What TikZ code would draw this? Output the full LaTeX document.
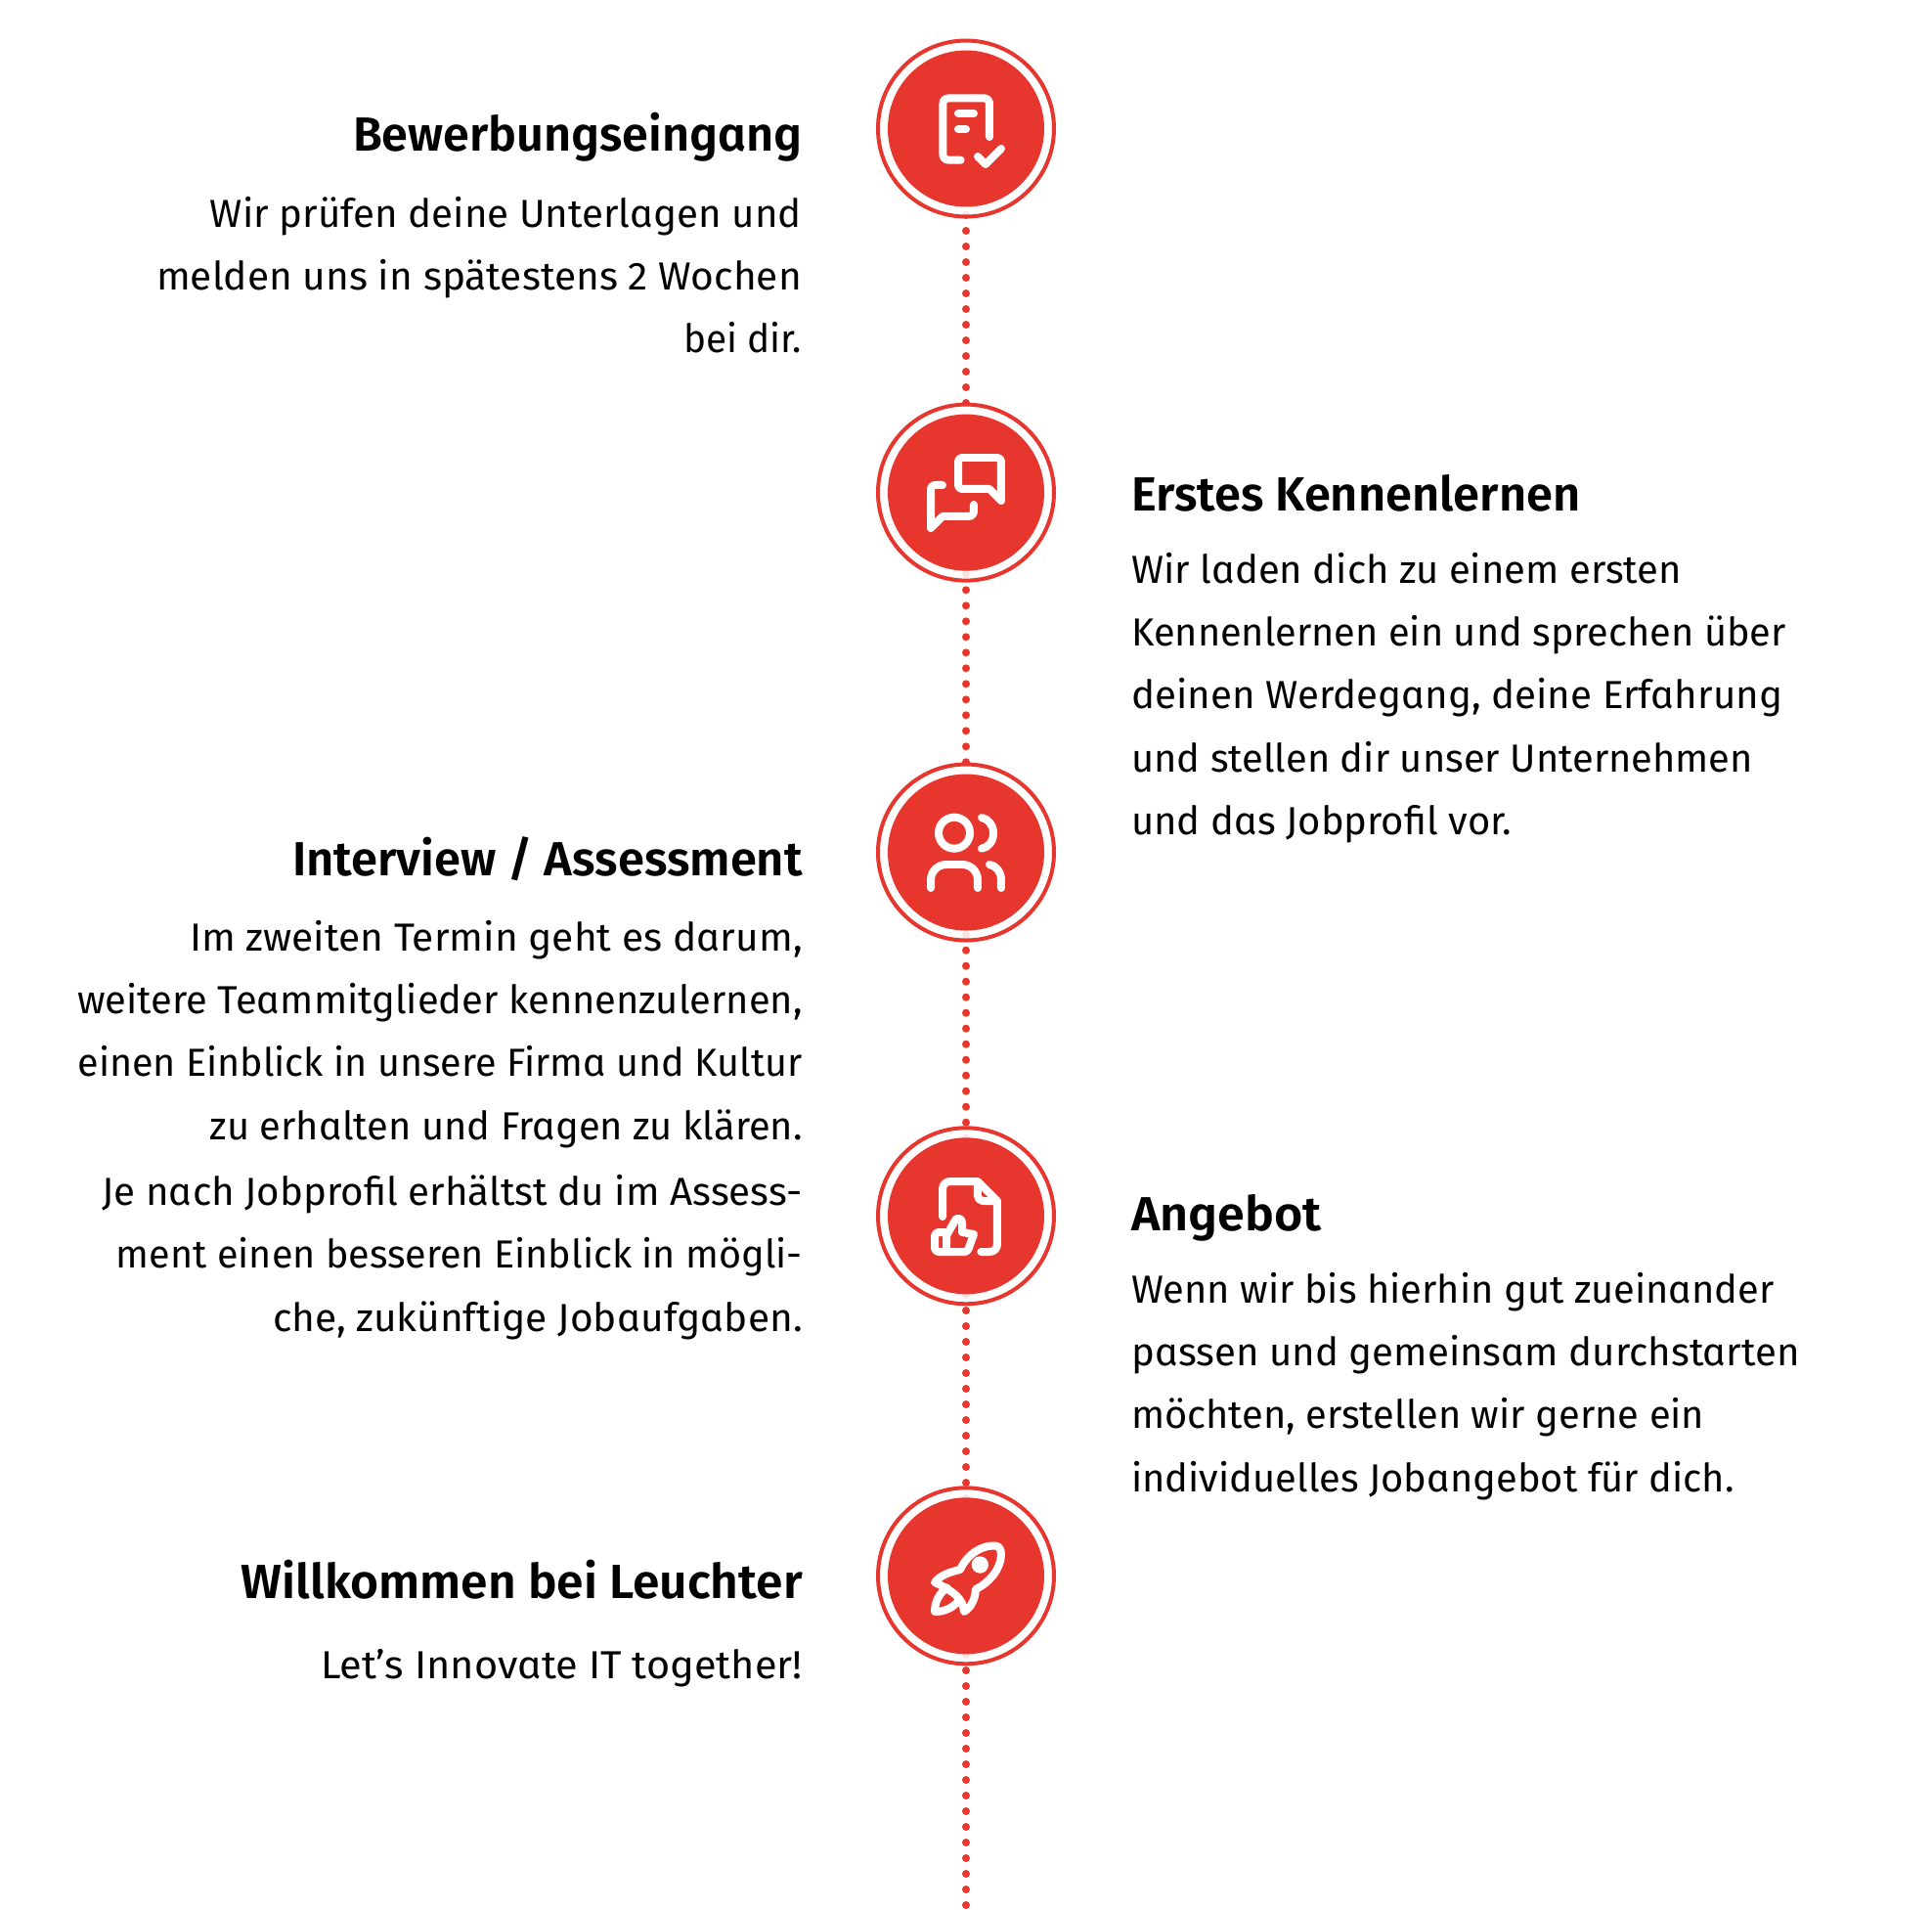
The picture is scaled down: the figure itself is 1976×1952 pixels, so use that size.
\documentclass[tikz,border=0pt]{standalone}
\usepackage{fontspec}
\usetikzlibrary{backgrounds}
\setmainfont{Fira Sans}[RawFeature={+salt}]
\newfontfamily\hdf{Fira Sans SemiBold}[RawFeature={+salt}]
\definecolor{lred}{HTML}{E7362D}
\tikzset{
  ring/.style={circle,draw=lred,line width=4pt,fill=white,fill opacity=.85,minimum size=180pt,inner sep=0pt,outer sep=0pt},
  core/.style={circle,fill=lred,minimum size=160pt,inner sep=0pt,outer sep=0pt},
  dots/.style={draw=lred,line width=8pt,line cap=round,dash pattern=on 0pt off 16pt},
  ico/.style={draw=white,line width=24*.3333pt,line cap=round,line join=round},
  head/.style={font=\hdf\fontsize{49}{58}\selectfont,inner sep=0pt,text=black},
  lbody/.style={font=\fontsize{40}{64.3}\selectfont,inner sep=0pt,align=right,anchor=north east,text=black},
  rbody/.style={font=\fontsize{40}{64.3}\selectfont,inner sep=0pt,align=left,anchor=north west,text=black},
}
\newcommand{\fl}{\rule{0pt}{40pt}}
\newcommand{\sx}[2]{\scalebox{#1}[1]{#2}}
\begin{document}
\begin{tikzpicture}[x=1pt,y=-1pt]
\useasboundingbox (0,0) rectangle (1976,1952);
% circles
\node[ring] (c1) at (988,131.5) {}; \node[core] (k1) at (c1.center) {};
\node[ring] (c2) at (988,503.6) {}; \node[core] (k2) at (c2.center) {};
\node[ring] (c3) at (988,871.5) {}; \node[core] (k3) at (c3.center) {};
\node[ring] (c4) at (988,1243.3) {}; \node[core] (k4) at (c4.center) {};
\node[ring] (c5) at (988,1611.3) {}; \node[core] (k5) at (c5.center) {};
\coordinate (endp) at (988,1952);
\begin{pgfonlayer}{background}
\fill[white] (0,0) rectangle (1976,1952);
\draw[dots,dash phase=7.5pt]  (c1.center) -- (c2.center);
\draw[dots,dash phase=12.3pt] (c2.center) -- (c3.center);
\draw[dots,dash phase=11.8pt] (c3.center) -- (c4.center);
\draw[dots,dash phase=15.3pt] (c4.center) -- (c5.center);
\draw[dots,dash phase=15.3pt] (c5.center) -- (endp);
\end{pgfonlayer}
% icon 1
\begin{scope}[xshift=880pt,yshift=-20pt,x=.3333pt,y=-.3333pt]
\draw[ico] (308,431) -- (272,431) .. controls (260,431) and (253,424) .. (253,412) -- (253,260) .. controls (253,248) and (260,241) .. (272,241) -- (378,241) .. controls (390,241) and (396,248) .. (396,260) -- (396,360);
\draw[ico] (300,288) -- (348,288);
\draw[ico] (300,336) -- (324,336);
\draw[ico] (360,420) -- (384,444) -- (432,396);
\end{scope}
% icon 2
\begin{scope}[xshift=880pt,yshift=-390pt,x=.3333pt,y=-.3333pt]
\draw[ico] (432,366) -- (396,330) -- (312,330) .. controls (305,330) and (300,325) .. (300,318) -- (300,246) .. controls (300,239) and (305,234) .. (312,234) -- (420,234) .. controls (427,234) and (432,239) .. (432,246) -- cycle;
\draw[ico] (252,318) -- (228,318) .. controls (221,318) and (216,323) .. (216,330) -- (216,450) -- (252,414) -- (330,414) .. controls (342,414) and (348,408) .. (348,396) -- (348,378);
\end{scope}
% icon 3
\begin{scope}[xshift=880pt,yshift=-760pt,x=.3333pt,y=-.3333pt]
\draw[ico] (288,275) circle[radius=48];
\draw[ico] (372,228) .. controls (393,232) and (408,252) .. (408,276) .. controls (408,300) and (393,320) .. (372,323);
\draw[ico] (216,444) -- (216,420) .. controls (216,393) and (237,372) .. (264,372) -- (312,372) .. controls (339,372) and (360,393) .. (360,420) -- (360,444);
\draw[ico] (396,372) .. controls (417,375) and (432,396) .. (432,420) -- (432,444);
\end{scope}
% icon 4
\begin{scope}[xshift=880pt,yshift=-1130pt,x=.3333pt,y=-.3333pt]
\draw[ico] (252,342) -- (252,258) .. controls (252,244) and (262,234) .. (276,234) -- (360,234) -- (420,294) -- (420,426) .. controls (420,440) and (410,450) .. (396,450) -- (370,450);
\draw[ico] (360,240) -- (360,276) .. controls (360,286) and (368,294) .. (378,294) -- (420,294);
\draw[ico] (264,390) -- (240,390) .. controls (233,390) and (228,395) .. (228,402) -- (228,438) .. controls (228,445) and (233,450) .. (240,450) -- (264,450) -- (320,450) .. controls (326,450) and (330,446) .. (332,440) -- (348,396) -- (312,390) -- (312,362) .. controls (312,352) and (306,347) .. (300,347) .. controls (294,347) and (290,352) .. (287,360) -- (264,400) -- (264,450);
\end{scope}
% icon 5
\begin{scope}[xshift=880pt,yshift=-1510pt,x=.3333pt,y=-.3333pt]
\draw[ico] (228,324) .. controls (245,302) and (275,292) .. (306,285) .. controls (330,232) and (380,208) .. (415,212) .. controls (426,213) and (432,222) .. (432,240) .. controls (430,285) and (395,325) .. (354,345) .. controls (352,378) and (338,402) .. (318,414) .. controls (316,375) and (285,350) .. cycle;
\draw[ico] (265,340) .. controls (240,360) and (228,385) .. (228,414) .. controls (258,414) and (285,402) .. (303,378);
\fill[white] (367,270) circle[radius=26];
\end{scope}
% texts
\node[head,anchor=base east] (h1) at (821,154) {\sx{.991}{Bewerbungseingang}};
\node[lbody] (b1) at (820,192) {\fl \sx{1.006}{Wir prüfen deine Unterlagen und}\\\sx{1.016}{melden uns in spätestens 2 Wochen}\\\sx{.97}{bei dir.}};
\node[head,anchor=base west] (h2) at (1157,522) {\sx{.996}{Erstes Kennenlernen}};
\node[rbody] (b2) at (1157,556) {\fl Wir laden dich zu einem ersten\\\sx{.993}{Kennenlernen ein und sprechen über}\\\sx{1.006}{deinen Werdegang, deine Erfahrung}\\\sx{.996}{und stellen dir unser Unternehmen}\\und das Jobprofil vor.};
\node[head,anchor=base east] (h3) at (821,895) {\sx{.998}{Interview / Assessment}};
\node[lbody] (b3) at (821,932) {\fl \sx{1.016}{Im zweiten Termin geht es darum,}\\\sx{.997}{weitere Teammitglieder kennenzulernen,}\\\sx{.987}{einen Einblick in unsere Firma und Kultur}\\\sx{.996}{zu erhalten und Fragen zu klären.}\\[3pt]\sx{1.007}{Je nach Jobprofil erhältst du im Assess-}\\\sx{.988}{ment einen besseren Einblick in mögli-}\\\sx{1.016}{che, zukünftige Jobaufgaben.}};
\node[head,anchor=base west] (h4) at (1157,1258) {\sx{1.025}{Angebot}};
\node[rbody] (b4) at (1157,1292) {\fl \sx{.995}{Wenn wir bis hierhin gut zueinander}\\\sx{1.004}{passen und gemeinsam durchstarten}\\\sx{.995}{möchten, erstellen wir gerne ein}\\\sx{.996}{individuelles Jobangebot für dich.}};
\node[head,anchor=base east] (h5) at (821,1634.5) {\sx{1.014}{Willkommen bei Leuchter}};
\node[lbody] (b5) at (821,1676) {\fl \sx{1.037}{Let’s Innovate IT together!}};
\end{tikzpicture}
\end{document}
